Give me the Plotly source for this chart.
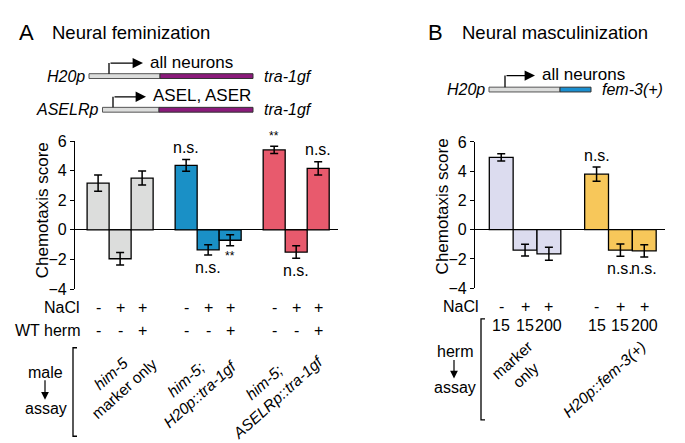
import plotly.graph_objects as go

# ---- data ----
a_groups = ["<i>him-5</i><br>marker only",
            "<i>him-5;<br>H20p::tra-1gf</i>",
            "<i>him-5;<br>ASELRp::tra-1gf</i>"]
a_nacl = ["-", "+", "+"]
a_wt_herm = ["-", "-", "+"]
a_means = [[3.15, -1.95, 3.5], [4.35, -1.35, -0.7], [5.4, -1.5, 4.15]]
a_sem = [[0.55, 0.42, 0.47], [0.4, 0.35, 0.37], [0.25, 0.42, 0.45]]
a_sig = [["", "", ""], ["n.s.", "n.s.", "**"], ["**", "n.s.", "n.s."]]

b_groups = ["marker<br>only", "<i>H20p::fem-3(+)</i>"]
b_nacl = ["-", "+", "+"]
b_conc = ["15", "15", "200"]
b_means = [[4.95, -1.4, -1.65], [3.8, -1.4, -1.45]]
b_sem = [[0.25, 0.4, 0.45], [0.48, 0.42, 0.42]]
b_sig = [["", "", ""], ["n.s.", "n.s.", "n.s."]]

# ---- style ----
W, H = 685, 443
FONT = "Liberation Sans, Arial, sans-serif"
a_colors = ["#dcdddc", "#1a90c6", "#e85a6d"]
b_colors = ["#dcdcef", "#f7c75a"]


def px(x):
    return x / W


def py(y):
    return 1 - y / H


fig = go.Figure()
annots = []
shapes = []


def txt(x, y, s, size=16, xa="center", ya="middle", angle=0, xref="paper", yref="paper"):
    annots.append(dict(x=x, y=y, xref=xref, yref=yref, text=s, showarrow=False,
                       xanchor=xa, yanchor=ya, textangle=angle, borderpad=0,
                       font=dict(family=FONT, size=size, color="black")))


def add_panel(means, sems, sigs, colors, xname, yname):
    xs, ys, es, cs = [], [], [], []
    for gi, grp in enumerate(means):
        for ci, v in enumerate(grp):
            xs.append(gi * 4 + ci)
            ys.append(v)
            es.append(sems[gi][ci])
            cs.append(colors[gi])
            s = sigs[gi][ci]
            if s:
                if v > 0:
                    yy, ya = v + sems[gi][ci] + 0.1, "bottom"
                else:
                    yy, ya = v - sems[gi][ci] - 0.1, "top"
                size = 12 if s == "**" else 16
                annots.append(dict(x=gi * 4 + ci, y=yy, xref=xname, yref=yname, text=s,
                                   showarrow=False, xanchor="center", yanchor=ya,
                                   font=dict(family=FONT, size=size, color="black")))
    fig.add_trace(go.Bar(x=xs, y=ys, width=1, marker_color=cs,
                         marker_line_color="black", marker_line_width=1.3,
                         error_y=dict(type="data", array=es, color="black", thickness=1.5, width=4),
                         xaxis=xname, yaxis=yname, showlegend=False))
    return xs


a_x = add_panel(a_means, a_sem, a_sig, a_colors, "x", "y")
b_x = add_panel(b_means, b_sem, b_sig, b_colors, "x2", "y2")

# ---- panel titles ----
txt(px(10), py(17), "A", size=22, xa="left")
txt(px(43), py(17), "Neural feminization", size=18.5, xa="left")
txt(px(419), py(17), "B", size=22, xa="left")
txt(px(453), py(17), "Neural masculinization", size=18.5, xa="left")


# ---- construct schematics ----
def construct(x0, xm, x1, y0, y1, col2, ax_x, arr_y, arr_end, label, left, right):
    shapes.append(dict(type="rect", xref="paper", yref="paper", x0=px(x0), x1=px(xm),
                       y0=py(y1), y1=py(y0), fillcolor="#dcdddc", line=dict(color="#555", width=1)))
    shapes.append(dict(type="rect", xref="paper", yref="paper", x0=px(xm), x1=px(x1),
                       y0=py(y1), y1=py(y0), fillcolor=col2, line=dict(color="#333", width=1)))
    shapes.append(dict(type="line", xref="paper", yref="paper", x0=px(ax_x), x1=px(ax_x),
                       y0=py(y0), y1=py(arr_y), line=dict(color="black", width=1.3)))
    annots.append(dict(x=px(arr_end), y=py(arr_y), xref="paper", yref="paper", text="",
                       showarrow=True, ax=-(arr_end - ax_x), ay=0, arrowhead=2,
                       arrowsize=1.6, arrowwidth=1.3, arrowcolor="black"))
    txt(px(arr_end + 6), py(arr_y - 1), label, size=17, xa="left")
    txt(px(x0 - 3), py((y0 + y1) / 2), "<i>%s</i>" % left, size=16, xa="right")
    txt(px(x1 + 10), py((y0 + y1) / 2), "<i>%s</i>" % right, size=16, xa="left")


construct(81, 152, 245, 60, 65, "#8b1a7b", 101, 49, 135, "all neurons", "H20p", "tra-1gf")
construct(94.5, 151, 245, 95, 100, "#8b1a7b", 105, 84, 138, "ASEL, ASER", "ASELRp", "tra-1gf")
construct(481, 552, 583, 74, 79, "#1a8fd0", 497, 62, 527, "all neurons", "H20p", "fem-3(+)")

# ---- y axis titles ----
txt(px(34), py(202), "Chemotaxis score", size=17, angle=-90)
txt(px(434), py(198), "Chemotaxis score", size=17, angle=-90)

# ---- condition rows ----
txt(px(73), py(303), "NaCl", xa="right")
txt(px(73), py(327), "WT herm", xa="right")
for i, x in enumerate(a_x):
    txt(x, py(303), a_nacl[i % 3], xref="x")
    txt(x, py(327), a_wt_herm[i % 3], xref="x")

txt(px(472), py(302), "NaCl", xa="right")
for i, x in enumerate(b_x):
    txt(x, py(302), b_nacl[i % 3], xref="x2")
    txt(x, py(322), b_conc[i % 3], xref="x2")


# ---- strain brackets ----
def bracket(x, y0, y1):
    shapes.append(dict(type="path", xref="paper", yref="paper",
                       path="M %f %f L %f %f L %f %f L %f %f" % (
                           px(x + 4), py(y0), px(x), py(y0), px(x), py(y1), px(x + 4), py(y1)),
                       line=dict(color="black", width=1.3)))


bracket(65, 345, 437)
bracket(473, 315, 420)


def down_arrow(x, y0, y1):
    annots.append(dict(x=px(x), y=py(y1), xref="paper", yref="paper", text="",
                       showarrow=True, ax=0, ay=-(y1 - y0), arrowhead=2,
                       arrowsize=1.3, arrowwidth=1.2, arrowcolor="black"))


txt(px(37), py(371), "male")
down_arrow(37, 378, 399)
txt(px(38), py(408), "assay")

txt(px(447), py(349), "herm")
down_arrow(446, 357, 377)
txt(px(447), py(386), "assay")

# ---- rotated strain labels ----
for x, y, g in zip([109, 185, 263], [380, 385, 388], a_groups):
    txt(px(x), py(y), g, size=15.5, angle=-42)
for x, y, g in zip([511, 596], [366, 378], b_groups):
    txt(px(x), py(y), g, size=15.5, angle=-42)

# ---- axes ----
yax = dict(range=[-4, 6], dtick=2, showline=True, linecolor="black", linewidth=1.3,
           ticks="outside", ticklen=4, tickwidth=1.3, tickcolor="black", showgrid=False,
           zeroline=True, zerolinecolor="black", zerolinewidth=1.3,
           tickfont=dict(family=FONT, size=16, color="black"))
xax = dict(showgrid=False, zeroline=False, showline=False, showticklabels=False, ticks="")

fig.update_layout(
    width=W, height=H, margin=dict(l=0, r=0, t=0, b=0),
    paper_bgcolor="white", plot_bgcolor="white",
    xaxis=dict(xax, domain=[px(67), px(330)], range=[-1.05, 10.9]),
    yaxis=dict(yax, domain=[py(284), py(130)], anchor="x"),
    xaxis2=dict(xax, domain=[px(467), px(657)], range=[-1.1, 6.87], anchor="y2"),
    yaxis2=dict(yax, domain=[py(283), py(131)], anchor="x2"),
    annotations=annots, shapes=shapes,
)

fig.write_html("out.html")
